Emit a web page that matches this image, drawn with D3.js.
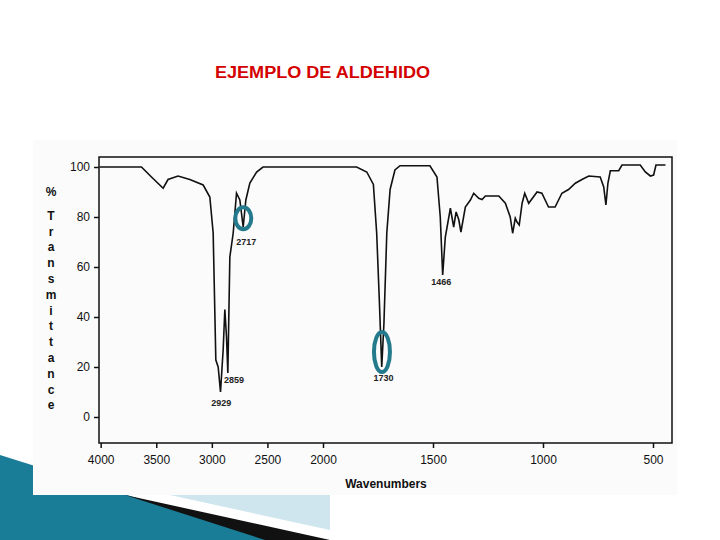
<!DOCTYPE html>
<html><head><meta charset="utf-8">
<script src="https://cdn.jsdelivr.net/npm/d3@7/dist/d3.min.js"></script>
<style>body{margin:0;background:#fff}svg{display:block}</style>
</head><body><svg id="c" width="720" height="540"></svg>
<script>
const wavenumbers=[4010,3633,3543,3438,3394,3304,3198,3078,3018,2988,2964,2943,2922,2898,2883,2868,2856,2838,2808,2778,2748,2718,2694,2658,2597,2540,1847,1801,1771,1756,1744,1733,1723,1710,1695,1673,1650,1514,1482,1467,1456,1444,1421,1406,1395,1383,1373,1353,1330,1315,1292,1277,1262,1201,1171,1149,1138,1126,1118,1108,1095,1083,1065,1027,1005,975,945,914,884,853,823,792,740,724,714,705,694,656,641,558,535,512,497,486,441];
const transmittance=[100,100,96,91.5,95,96.4,95,92.8,88,73.6,22.8,20,10,27,43,32,17.6,64,73.5,89.5,86.8,76,86.8,93.6,98,100,100,98,93,73.6,46.8,20,37.5,73.6,91,98.8,100.5,100.5,96,80,56.8,72,83.5,76,82,79,74,84,86.8,89.5,87.5,87,88.4,88.4,85.5,80,73.5,79.5,78,76.8,85.5,89.5,85.5,90,89.5,84,84,89.5,91,93.5,95,96.4,96,92,84.8,93.5,98.5,98.5,100.8,100.8,98,96.4,96.8,100.8,100.8];
const xTicks=[4000,3500,3000,2500,2000,1500,1000,500];
const yTicks=[0,20,40,60,80,100];
const peakLabels=[{t:"2717",w:2690,v:69},{t:"2859",w:2800,v:13.5},{t:"2929",w:2915,v:4.5},{t:"1730",w:1725,v:14.5},{t:"1466",w:1462,v:53}];
const circled=[{w:2717,v:79.5,ry:11},{w:1732,v:26,ry:20}];
const yLabel="%Transmittance".split("");

const svg=d3.select("#c");
svg.append("polygon").attr("points","0,455 270,540 0,540").attr("fill","#1a7d98");
svg.append("polygon").attr("points","125,495 330,540 265,540").attr("fill","#111");
svg.append("polygon").attr("points","170,495 330,495 330,530").attr("fill","#cfe6ee");
svg.append("rect").attr("x",33).attr("y",140).attr("width",644).attr("height",355).attr("fill","#fbfbfb");

svg.append("text").attr("x",215).attr("y",78).attr("font-family","Liberation Sans, Arial").attr("font-size",16).attr("font-weight","bold").attr("fill","#d40000").attr("textLength",215).attr("lengthAdjust","spacingAndGlyphs").text("EJEMPLO DE ALDEHIDO");

const x=d3.scaleLinear().domain([4015,2000,500,410]).range([99,323,653,672]);
const y=d3.scaleLinear().domain([0,100]).range([417,167]);
svg.append("rect").attr("x",99).attr("y",157).attr("width",573).attr("height",286).attr("fill","none").attr("stroke","#111").attr("stroke-width",1.5);
const f="Liberation Sans, Arial";
svg.append("g").attr("transform","translate(99,0)").call(d3.axisLeft(y).tickValues(yTicks).tickSize(5)).call(g=>{g.select(".domain").remove();g.selectAll("line").attr("stroke","#111").attr("stroke-width",1.5);g.selectAll("text").attr("font-family",f).attr("font-size",12).attr("fill","#111").attr("x",-9);});
svg.append("g").attr("transform","translate(0,443)").call(d3.axisBottom(x).tickValues(xTicks).tickSize(5).tickFormat(d3.format("d"))).call(g=>{g.select(".domain").remove();g.selectAll("line").attr("stroke","#111").attr("stroke-width",1.5);g.selectAll("text").attr("font-family",f).attr("font-size",12).attr("fill","#111").attr("y",12);});
svg.append("text").attr("x",386).attr("y",488).attr("text-anchor","middle").attr("font-family",f).attr("font-size",12).attr("font-weight","bold").attr("fill","#111").text("Wavenumbers");
svg.append("g").selectAll("text").data(yLabel).join("text").attr("x",51).attr("y",(d,i)=>196+i*15.8+(i>0?8:0)).attr("text-anchor","middle").attr("font-family",f).attr("font-size",12).attr("font-weight","bold").attr("fill","#111").text(d=>d);

const line=d3.line().x(d=>x(d[0])).y(d=>y(d[1]));
svg.append("path").datum(d3.zip(wavenumbers,transmittance)).attr("d",line).attr("fill","none").attr("stroke","#111").attr("stroke-width",1.6);
svg.append("g").selectAll("text").data(peakLabels).join("text").attr("x",d=>x(d.w)).attr("y",d=>y(d.v)).attr("text-anchor","middle").attr("font-family",f).attr("font-size",9).attr("font-weight","bold").attr("fill","#222").text(d=>d.t);
svg.append("g").selectAll("ellipse").data(circled).join("ellipse").attr("cx",d=>x(d.w)).attr("cy",d=>y(d.v)).attr("rx",8).attr("ry",d=>d.ry).attr("fill","none").attr("stroke","#237a8c").attr("stroke-width",4);
</script></body></html>
